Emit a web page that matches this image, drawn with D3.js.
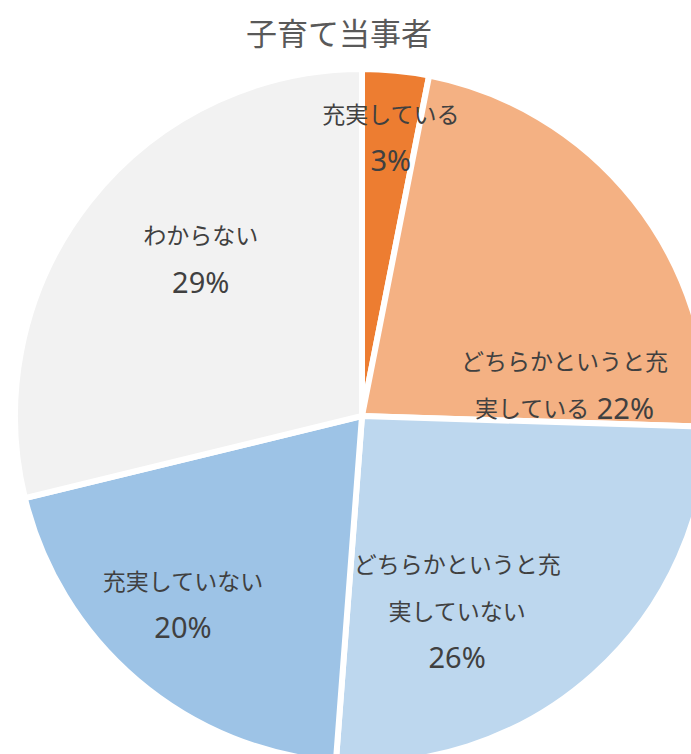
<!DOCTYPE html>
<html>
<head>
<meta charset="utf-8">
<script src="https://cdn.jsdelivr.net/npm/d3@7"></script>
<style>
  body { margin: 0; background: #fff; }
  svg { display: block; }
</style>
</head>
<body>
<div id="chart"></div>
<script>
// 子育て当事者 pie chart

const title = "子育て当事者";
const categories = ["充実している", "どちらかというと充実している", "どちらかというと充実していない", "充実していない", "わからない"];
const shares = [3.1, 22.4, 25.7, 20.0, 28.8];
const percentLabels = ["3%", "22%", "26%", "20%", "29%"];

const colors = ["#ED7D31", "#F4B183", "#BDD7EE", "#9DC3E6", "#F2F2F2"];

// label layout (angle shift from slice middle in degrees, distance from centre,
// and whether the percent goes on the last text line)
const labelLayout = [
    {shift: 0.3, r: 281, inline: false},
    {shift: 29.5, r: 205, inline: true},
    {shift: 15.8, r: 216, inline: false},
    {shift: 3.4, r: 259, inline: false},
    {shift: 6.3, r: 226, inline: false}
];

const width = 691,
    height = 754,
    cx = 362,
    cy = 416,
    outerRadius = 347,
    lineGap = 47,
    wrapAt = 9;

const data = categories.map((c, i) => ({category: c, value: shares[i], pct: percentLabels[i]}));

const arcs = d3.pie()
    .sort(null)
    .value(d => d.value)(data);

const arc = d3.arc().innerRadius(0).outerRadius(outerRadius);

const svg = d3.select("#chart")
    .append("svg")
    .attr("width", width)
    .attr("height", height);

const font = "'Noto Sans CJK JP', 'Noto Sans', sans-serif";
const numFont = "'Noto Sans', 'Open Sans', sans-serif";

svg.append("text")
    .attr("x", 339)
    .attr("y", 31)
    .attr("text-anchor", "middle")
    .attr("dominant-baseline", "central")
    .attr("font-family", font)
    .attr("font-size", 31)
    .attr("fill", "#595959")
    .text(title);

const g = svg.append("g")
    .attr("transform", `translate(${cx},${cy})`);

g.append("g")
    .attr("stroke", "white")
    .attr("stroke-width", 6)
    .attr("stroke-linejoin", "miter")
    .selectAll("path")
    .data(arcs)
    .join("path")
    .attr("fill", (d, i) => colors[i])
    .attr("d", arc);

// split a label into lines the way the data label box wraps it
function labelLines(d, i) {
    const name = d.data.category;
    const lines = [];
    for (let k = 0; k < name.length; k += wrapAt) lines.push({text: name.slice(k, k + wrapAt), pct: null});
    if (labelLayout[i].inline) lines[lines.length - 1].pct = " " + d.data.pct;
    else lines.push({text: "", pct: d.data.pct});
    return lines;
}

g.append("g")
    .attr("font-family", font)
    .attr("font-size", 23)
    .attr("fill", "#404040")
    .attr("text-anchor", "middle")
    .selectAll("text")
    .data(arcs)
    .join("text")
    .attr("transform", (d, i) => {
        const a = (d.startAngle + d.endAngle) / 2 + labelLayout[i].shift * Math.PI / 180;
        const r = labelLayout[i].r;
        return `translate(${r * Math.sin(a)},${-r * Math.cos(a)})`;
    })
    .each(function(d, i) {
        const lines = labelLines(d, i);
        const line = d3.select(this).selectAll("tspan.line")
            .data(lines)
            .join("tspan")
            .attr("class", "line")
            .attr("x", 0)
            .attr("y", (t, j) => (j - (lines.length - 1) / 2) * lineGap)
            .attr("dominant-baseline", "central");
        line.append("tspan")
            .text(t => t.text);
        line.filter(t => t.pct)
            .append("tspan")
            .attr("font-family", numFont)
            .attr("font-size", 29)
            .text(t => t.pct);
    });
</script>
</body>
</html>
